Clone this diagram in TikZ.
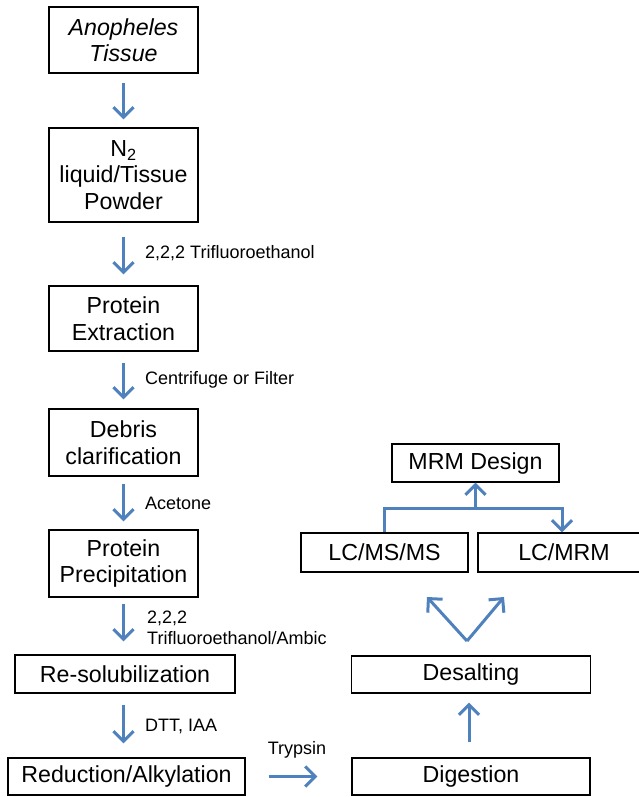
\documentclass[tikz,border=0pt]{standalone}
\usepackage{fontspec}
\setmainfont{Liberation Sans}
\usepackage{tikz}
\usetikzlibrary{positioning,arrows.meta,calc}

\definecolor{flowblue}{RGB}{79,129,189}

\tikzset{
  stepbox/.style={draw, line width=1.4pt, inner sep=0pt, align=center,
    font=\fontsize{23.2}{26.5}\selectfont},
  flow/.style={draw=flowblue, line width=3pt,
    -{Straight Barb[length=10pt,width=20pt]}},
  reagent/.style={font=\fontsize{18}{20.5}\selectfont, anchor=west, inner sep=0pt, align=left}
}

\begin{document}
\begin{tikzpicture}[x=1pt,y=-1pt]
\useasboundingbox (0,0) rectangle (638,797);

% Sample preparation column
\node[stepbox, minimum width=149, minimum height=66] (tissue) at (123.5,40) {\itshape Anopheles\\\itshape Tissue};
\node[stepbox, minimum width=149, minimum height=94] (powder) at (123.5,175) {N\textsubscript{2}\\liquid/Tissue\\Powder};
\node[stepbox, minimum width=149, minimum height=65] (extract) at (123.5,318.5) {Protein\\Extraction};
\node[stepbox, minimum width=149, minimum height=67] (debris) at (123.5,442.5) {Debris\\clarification};
\node[stepbox, minimum width=149, minimum height=67] (precip) at (123.5,563.5) {Protein\\Precipitation};
\node[stepbox, minimum width=220, minimum height=38] (resol) at (125,674) {Re-solubilization};
\node[stepbox, minimum width=237, minimum height=37] (redalk) at (126.5,776.5) {Reduction/Alkylation};

% Analysis column
\node[stepbox, minimum width=238, minimum height=37] (digest) at (471,776.5) {Digestion};
\node[stepbox, minimum width=239, minimum height=37] (desalt) at (471,674.5) {Desalting};
\node[stepbox, minimum width=167, minimum height=39] (lcms) at (384.5,552.5) {LC/MS/MS};
\node[stepbox, minimum width=172, minimum height=39] (lcmrm) at (564,552.5) {LC/MRM};
\node[stepbox, minimum width=167, minimum height=38] (mrm) at (475.5,463) {MRM Design};

% Reagents
\node[reagent] (tfe) at (145,253) {2,2,2 Trifluoroethanol};
\node[reagent] (filt) at (145,380) {Centrifuge or Filter};
\node[reagent] (acet) at (145,503) {Acetone};
\node[reagent] (ambic) at (147,628) {2,2,2\\Trifluoroethanol/Ambic};
\node[reagent] (dtt) at (145,726) {DTT, IAA};
\node[reagent, anchor=center] (tryp) at (297,750) {Trypsin};

% Arrows
\draw[flow, shorten <=9pt, shorten >=8pt] (tissue.south) -- (powder.north);
\draw[flow, shorten <=14pt, shorten >=11pt] (powder.south) -- (extract.north);
\draw[flow, shorten <=11pt, shorten >=9pt] (extract.south) -- (debris.north);
\draw[flow, shorten <=7pt, shorten >=8pt] (debris.south) -- (precip.north);
\draw[flow, shorten <=6pt, shorten >=13pt] (precip.south) -- (resol.north -| precip.south);
\draw[flow, shorten <=11pt, shorten >=14pt] (resol.south -| precip.south) -- (redalk.north -| precip.south);
\draw[flow, shorten <=23pt, shorten >=34pt] (redalk.east) -- (digest.west);
\draw[flow, shorten <=15pt, shorten >=9pt] ([xshift=-2pt]digest.north) -- ([xshift=-2pt]desalt.south);

% Fork to the two methods
\coordinate (fork) at (467,641);
\coordinate (tipL) at (427,597);
\coordinate (tipR) at (504,597);
\draw[flow] (fork) -- (tipL);
\draw[flow] (fork) -- (tipR);

% MRM design loop
\coordinate (join) at (475.5,508);
\draw[flow] (lcms.north) |- (join) -| ([xshift=-2pt]lcmrm.north);
\draw[flow] (join) -- (mrm.south);

\end{tikzpicture}
\end{document}
